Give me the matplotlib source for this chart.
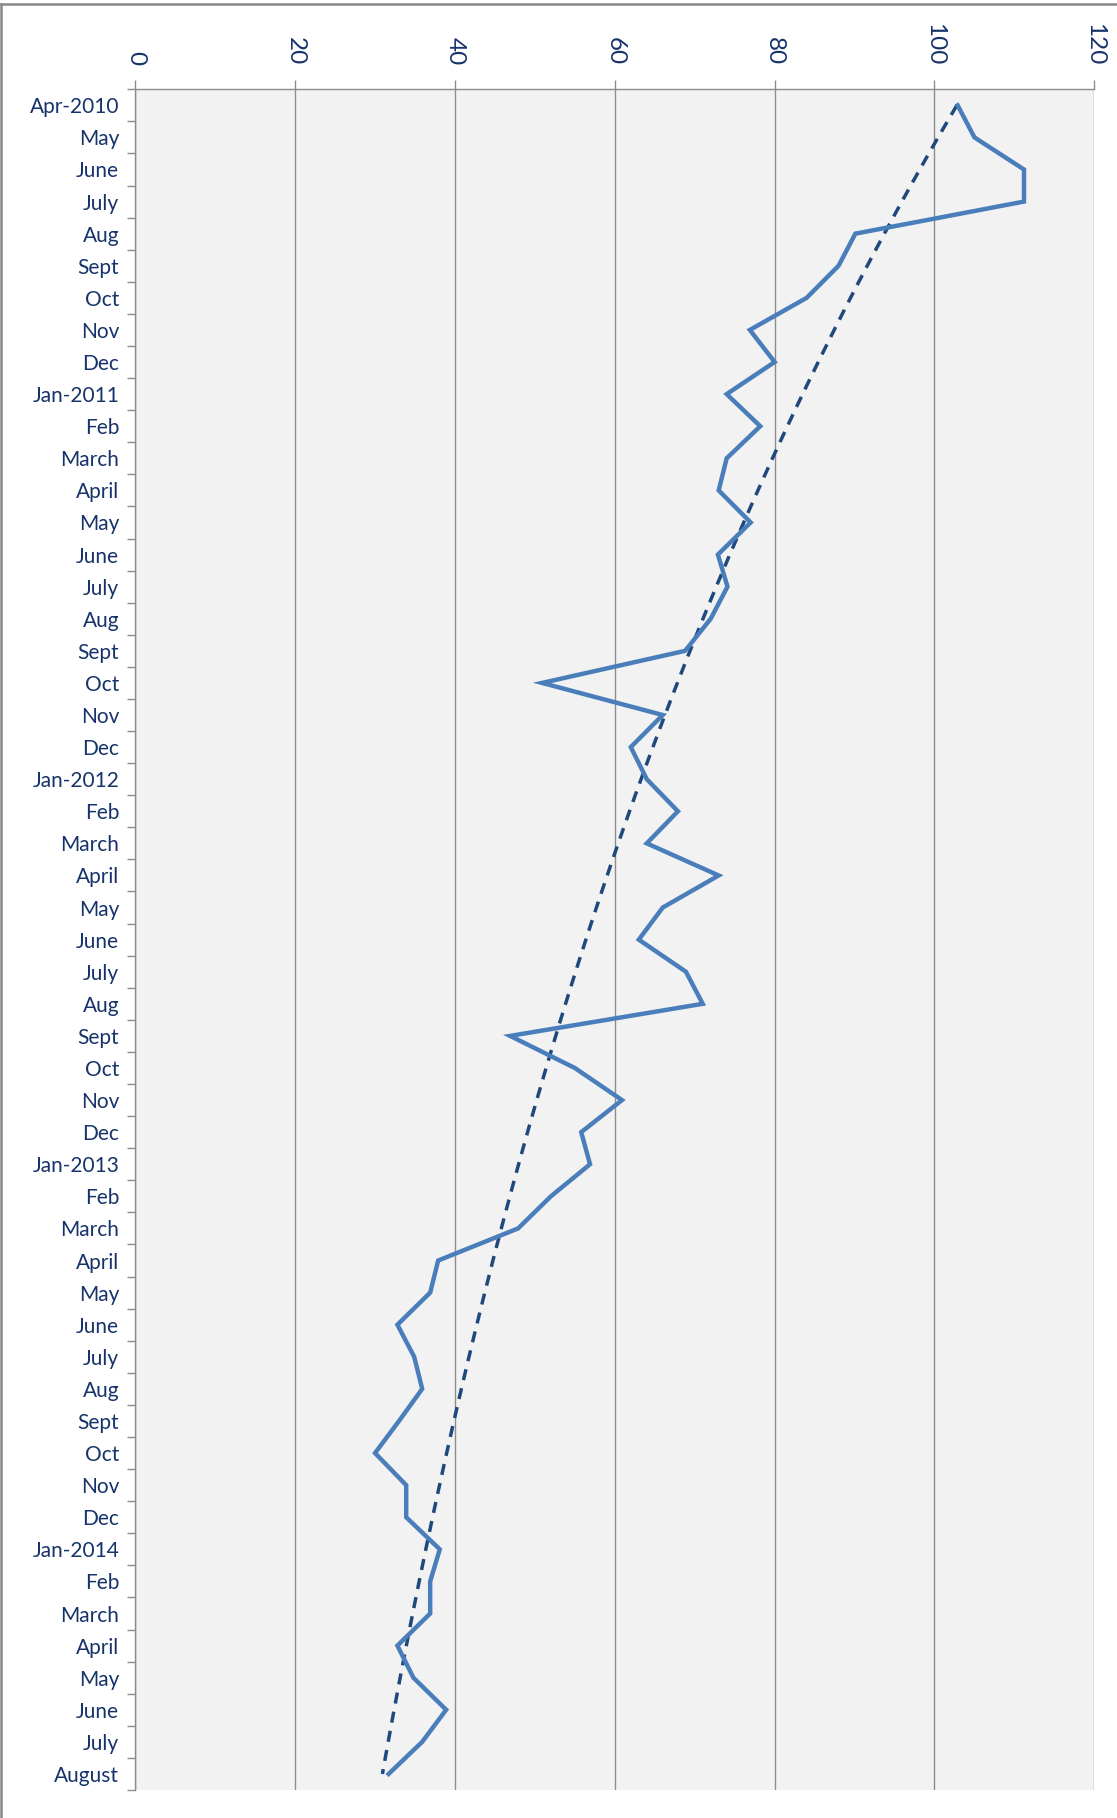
import numpy as np
import matplotlib
matplotlib.use("Agg")
import matplotlib.pyplot as plt
from matplotlib.lines import Line2D

plt.rcParams['font.family'] = ['Lato', 'DejaVu Sans']

# categories (top to bottom)
months = ["Apr-2010", "May", "June", "July", "Aug", "Sept", "Oct", "Nov", "Dec",
          "Jan-2011", "Feb", "March", "April", "May", "June", "July", "Aug", "Sept", "Oct", "Nov", "Dec",
          "Jan-2012", "Feb", "March", "April", "May", "June", "July", "Aug", "Sept", "Oct", "Nov", "Dec",
          "Jan-2013", "Feb", "March", "April", "May", "June", "July", "Aug", "Sept", "Oct", "Nov", "Dec",
          "Jan-2014", "Feb", "March", "April", "May", "June", "July", "August"]

values = [102.9, 105.0, 111.2, 111.2, 90.1, 88.0, 84.0, 76.9, 80.0,
          74.0, 78.2, 74.0, 73.0, 77.0, 72.9, 74.1, 72.0, 68.8, 50.9, 66.0, 62.0,
          64.0, 67.9, 64.0, 73.0, 66.0, 63.0, 68.9, 71.0, 46.9, 55.0, 60.9, 55.8,
          56.9, 52.0, 47.9, 37.9, 36.9, 32.8, 34.9, 35.9, 33.0, 30.0, 33.9, 33.9,
          38.1, 36.9, 36.9, 32.8, 34.8, 38.9, 35.9, 31.7]

x_ticks = [0, 20, 40, 60, 80, 100, 120]

label_color = '#17336a'
grid_color = '#8c8c8c'

pos = np.arange(len(months))

# exponential trendline (fit on log values, like the spreadsheet does)
coef = np.polyfit(pos, np.log(values), 1)
tpos = np.linspace(pos[0], pos[-1], 200)
trend = np.exp(np.polyval(coef, tpos))

fig = plt.figure(figsize=(11.17, 18.18), dpi=100)
ax = fig.add_axes([0.1211, 0.0154, 0.9797 - 0.1211, 0.9509 - 0.0154])
ax.set_facecolor('#f2f2f2')

ax.plot(trend, tpos, color='#1f497d', lw=2.5, linestyle=(0, (3.2, 2.4)), zorder=3)
ax.plot(values, pos, color='#4a7ebb', lw=3.2, solid_joinstyle='miter', zorder=4)

ax.set_xlim(0, 120)
ax.set_ylim(len(months) - 0.5, -0.5)

ax.xaxis.tick_top()
ax.set_xticks(x_ticks)
ax.set_xticklabels([str(v) for v in x_ticks], rotation=-90, fontsize=17.5, color=label_color)
ax.tick_params(axis='x', length=6.5, width=1, color=grid_color, pad=11)
ax.grid(axis='x', color=grid_color, lw=1)
ax.set_axisbelow(True)

ax.set_yticks(pos)
ax.set_yticklabels(months, fontsize=15, color=label_color)
ax.set_yticks(np.arange(-0.5, len(months)), minor=True)
ax.tick_params(axis='y', which='major', length=0, pad=11.5)
ax.tick_params(axis='y', which='minor', length=6, width=1, color=grid_color)

for s in ['right', 'bottom']:
    ax.spines[s].set_visible(False)
for s in ['top', 'left']:
    ax.spines[s].set_color(grid_color)
    ax.spines[s].set_linewidth(1)

# chart border
fig.add_artist(Line2D([0.001, 1.0], [1 - 4 / 1818, 1 - 4 / 1818], color='#888888', lw=1.8))
fig.add_artist(Line2D([1.2 / 1117, 1.2 / 1117], [0.0, 1 - 4 / 1818], color='#888888', lw=1.8))

fig.savefig('out.png', dpi=100)
